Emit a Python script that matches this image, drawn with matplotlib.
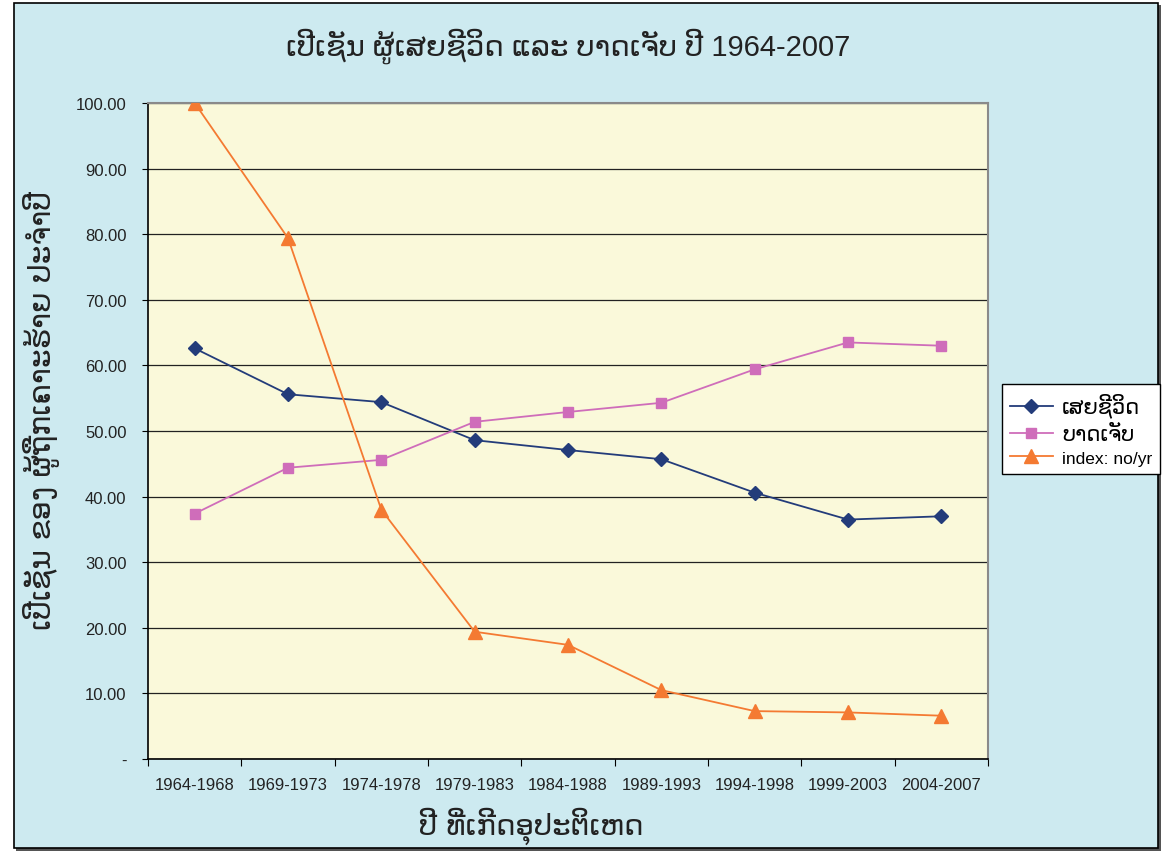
import matplotlib
matplotlib.use("Agg")
import matplotlib.pyplot as plt
from matplotlib.patches import Rectangle

categories = ["1964-1968", "1969-1973", "1974-1978", "1979-1983", "1984-1988",
              "1989-1993", "1994-1998", "1999-2003", "2004-2007"]
deaths = [62.6, 55.6, 54.4, 48.6, 47.1, 45.7, 40.6, 36.5, 37.0]
injured = [37.4, 44.4, 45.6, 51.4, 52.9, 54.3, 59.4, 63.5, 63.0]
index_no_yr = [100.0, 79.4, 38.0, 19.4, 17.4, 10.5, 7.3, 7.1, 6.6]
yticks = [0, 10, 20, 30, 40, 50, 60, 70, 80, 90, 100]
ytick_labels = ["-", "10.00", "20.00", "30.00", "40.00", "50.00", "60.00",
                "70.00", "80.00", "90.00", "100.00"]

title = "ເປີເຊັນ ຜູ້ເສຍຊີວິດ ແລະ ບາດເຈັບ ປີ 1964-2007"
xlabel = "ປີ ທີ່ເກີດອຸປະຕິເຫດ"
ylabel = "ເປີເຊັນ ຂອງ ຜູ້ຖືກເຄາະຮ້າຍ ປະຈຳປີ"
legend_labels = ["ເສຍຊີວິດ", "ບາດເຈັບ", "index: no/yr"]

FAM = ["Liberation Sans", "DejaVu Sans"]
plt.rcParams['font.family'] = FAM

W, H = 1165, 854
fig = plt.figure(figsize=(W / 100, H / 100), dpi=100)
fig.patch.set_facecolor("white")
# chart area background with border
fig.patches.append(Rectangle((16 / W, 1 - 852 / H), (1161 - 16) / W, (852 - 6) / H,
                             transform=fig.transFigure, facecolor="#555555",
                             edgecolor="none", zorder=-3))
fig.patches.append(Rectangle((14 / W, 1 - 849 / H), (1158 - 14) / W, (849 - 4) / H,
                             transform=fig.transFigure, facecolor="#CDEAF0",
                             edgecolor="black", linewidth=1.2, zorder=-2))

ax = fig.add_axes([148 / W, 1 - 760 / H, (988 - 148) / W, (760 - 104) / H])
ax.set_facecolor("#FAF9DA")

x = list(range(len(categories)))
l1, = ax.plot(x, deaths, color="#233C7A", marker="D", markersize=7, linewidth=1.3,
              label=legend_labels[0], zorder=3)
l2, = ax.plot(x, injured, color="#CF6DBA", marker="s", markersize=7, linewidth=1.3,
              label=legend_labels[1], zorder=3)
l3, = ax.plot(x, index_no_yr, color="#F47A32", marker="^", markersize=9.5, linewidth=1.3,
              label=legend_labels[2], zorder=3)

ax.set_xlim(-0.5, len(categories) - 0.5)
ax.set_ylim(0, 100)
ax.set_yticks(yticks)
ax.set_yticklabels(ytick_labels, fontsize=12, color="#222222")
ax.set_xticks([i + 0.5 for i in range(-1, len(categories))], minor=False)
ax.set_xticklabels([""] * (len(categories) + 1))
ax.set_xticks(x, minor=True)
ax.set_xticklabels(categories, minor=True, fontsize=12, color="#222222")
ax.tick_params(axis="x", which="minor", length=0, pad=13)
ax.tick_params(axis="x", which="major", length=5, direction="out", color="black")
ax.tick_params(axis="y", length=4.5, direction="out", color="black", pad=11)

ax.grid(axis="y", color="#222222", linewidth=0.9, zorder=1)
ax.set_axisbelow(True)
for s in ["top", "right"]:
    ax.spines[s].set_color("#8A8A8A")
    ax.spines[s].set_linewidth(1.5)
for s in ["left", "bottom"]:
    ax.spines[s].set_color("black")
    ax.spines[s].set_linewidth(1.2)

fig.text(568 / W, 1 - 46 / H, title, ha="center", va="center", fontsize=21,
         color="#222222", family=FAM)
fig.text(531 / W, 1 - 826 / H, xlabel, ha="center", va="center", fontsize=21,
         color="#222222", family=["DejaVu Sans"])
fig.text(42 / W, 1 - 410 / H, ylabel, ha="center", va="center", fontsize=21.5,
         color="#222222", rotation=90, family=["DejaVu Sans"])

leg = fig.legend(handles=[l1, l2, l3], loc="center", bbox_to_anchor=(1081 / W, 1 - 430 / H),
                 frameon=True, fancybox=False, edgecolor="black", facecolor="white",
                 framealpha=1, fontsize=13, handlelength=2.4, handletextpad=0.5,
                 borderpad=0.45, borderaxespad=0, labelspacing=0.35)
leg.get_frame().set_linewidth(1.0)
for t in leg.get_texts():
    t.set_family(["DejaVu Sans"])
    t.set_fontsize(15)
leg.get_texts()[2].set_fontsize(12.5)
leg.get_texts()[2].set_family(FAM)

fig.savefig("out.png", dpi=100, facecolor=fig.get_facecolor())
